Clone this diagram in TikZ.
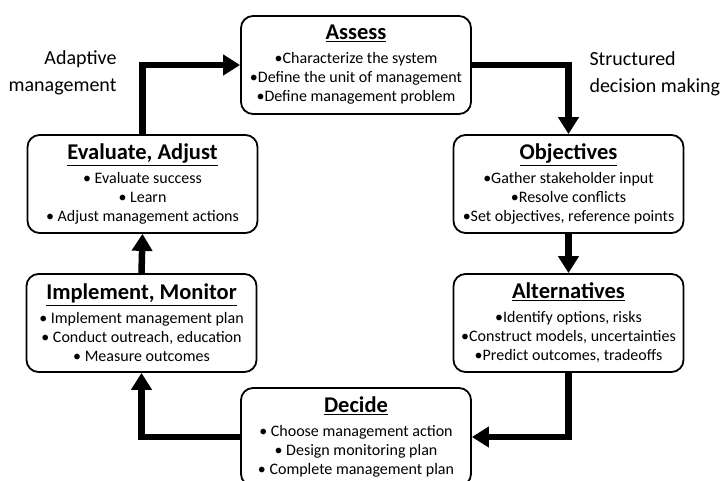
\documentclass[tikz,border=0pt]{standalone}
\usepackage{fontspec}
\setmainfont{Carlito}
\usetikzlibrary{arrows.meta}

\newcommand{\stagetitle}[1]{{\fontsize{22.5}{25}\selectfont\bfseries\underline{#1}}}

\begin{document}
\begin{tikzpicture}[x=1pt,y=-1pt,
  stage/.style={draw,line width=1.8pt,rounded corners=12pt,minimum width=230pt,minimum height=98pt,inner sep=2pt,align=center,font=\fontsize{16}{19}\selectfont},
  flow/.style={line width=6.5pt,-{Triangle[width=20pt,length=17pt]}},
  side/.style={font=\fontsize{20}{27}\selectfont}]
\useasboundingbox (0,0) rectangle (724,481);
% stages of the cycle
\node[stage] (assess) at (356,65) {\stagetitle{Assess}\\[5pt] •Characterize the system\\ •Define the unit of management\\ •Define management problem};
\node[stage] (objectives) at (568.5,184) {\stagetitle{Objectives}\\[5pt] •Gather stakeholder input\\ •Resolve conflicts\\ •Set objectives, reference points};
\node[stage] (alternatives) at (568.5,323) {\stagetitle{Alternatives}\\[5pt] •Identify options, risks\\ •Construct models, uncertainties\\ •Predict outcomes, tradeoffs};
\node[stage] (decide) at (356,437) {\stagetitle{Decide}\\[5pt] • Choose management action\\ • Design monitoring plan\\ • Complete management plan};
\node[stage] (implement) at (141.5,323) {\stagetitle{Implement, Monitor}\\[5pt] • Implement management plan\\ • Conduct outreach, education\\ • Measure outcomes};
\node[stage] (evaluate) at (142.5,184) {\stagetitle{Evaluate, Adjust}\\[5pt] • Evaluate success\\ • Learn\\ • Adjust management actions};
% side labels
\node[side,align=right,anchor=east] (adaptive) at (120,73) {Adaptive\\management};
\node[side,align=left,anchor=west] (structured) at (586,74) {Structured\\decision making};
% arrows round the cycle
\draw[flow] (evaluate.north) |- (assess.west);
\draw[flow] (assess.east) -| (objectives.north);
\draw[flow] (objectives.south) -- (alternatives.north);
\draw[flow] (alternatives.south) |- (decide.east);
\draw[flow] (decide.west) -| (implement.south);
\draw[flow] (implement.north) -- (evaluate.south);
\end{tikzpicture}
\end{document}
